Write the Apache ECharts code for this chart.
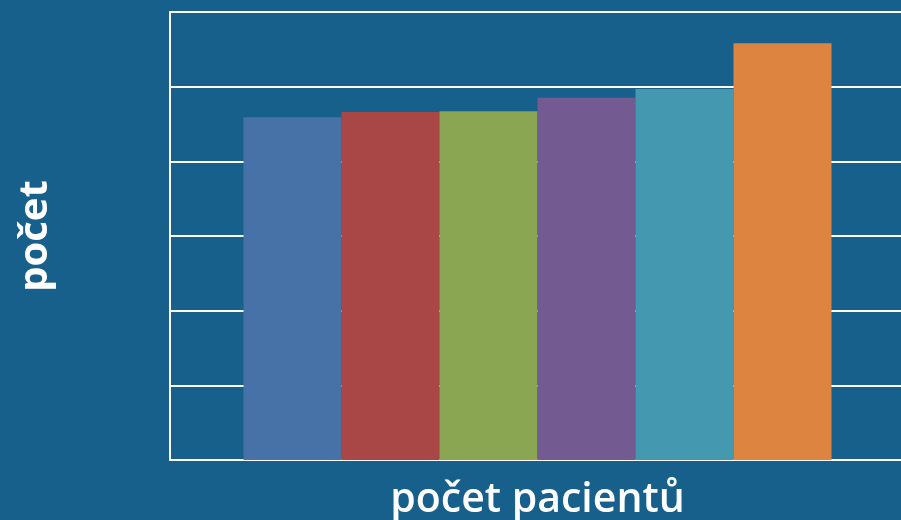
<!DOCTYPE html>
<html>
<head>
<meta charset="utf-8">
<script src="https://cdn.jsdelivr.net/npm/echarts@6/dist/echarts.min.js"></script>
<style>
  html, body { margin: 0; padding: 0; background: #17608c; }
  #chart { width: 901px; height: 520px; }
</style>
</head>
<body>
<div id="chart"></div>
<script>
const categories = [""];
const seriesNames = ["1", "2", "3", "4", "5", "6"];
const values = [459, 466, 467, 485, 497, 558];
const colors = ["#4672a8", "#a94747", "#8ba652", "#735a91", "#4499b0", "#dc8440"];

const myChart = echarts.init(document.getElementById("chart"));

const option = {
  backgroundColor: "#17608c",
  animation: false,
  grid: {
    left: 170,
    top: 12,
    width: 735,
    height: 448,
    outerBoundsMode: "none"
  },
  xAxis: {
    type: "category",
    data: categories,
    name: "počet pacientů",
    nameLocation: "middle",
    nameGap: 20,
    nameTextStyle: {
      color: "#fff",
      fontFamily: "Open Sans",
      fontSize: 41,
      fontWeight: 600
    },
    axisLine: { show: false },
    axisTick: { show: false },
    axisLabel: { show: false }
  },
  yAxis: {
    type: "value",
    min: 0,
    max: 600,
    interval: 100,
    name: "počet",
    nameLocation: "middle",
    nameGap: 114,
    nameTextStyle: {
      color: "#fff",
      fontFamily: "Open Sans",
      fontSize: 40,
      fontWeight: "bold"
    },
    axisLine: { show: true, lineStyle: { color: "#fff", width: 2 } },
    axisTick: { show: false },
    axisLabel: { show: false },
    splitLine: { lineStyle: { color: "#fff", width: 2 } }
  },
  series: seriesNames.map((name, i) => ({
    name: name,
    type: "bar",
    data: [values[i]],
    barGap: "0%",
    barWidth: 98,
    itemStyle: { color: colors[i] }
  }))
};

myChart.setOption(option);
</script>
</body>
</html>
